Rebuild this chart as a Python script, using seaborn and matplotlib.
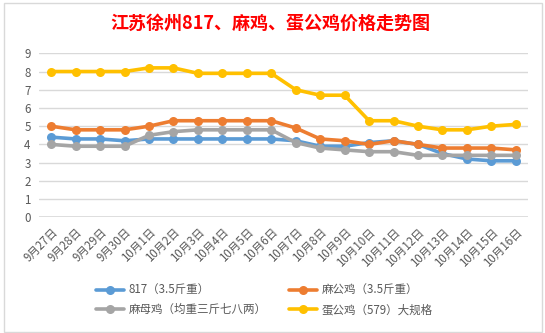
import matplotlib
matplotlib.use("Agg")
import matplotlib.pyplot as plt
from matplotlib.patches import Rectangle
import seaborn as sns
import pandas as pd

dates = ["9月27日", "9月28日", "9月29日", "9月30日", "10月1日", "10月2日", "10月3日",
         "10月4日", "10月5日", "10月6日", "10月7日", "10月8日", "10月9日", "10月10日",
         "10月11日", "10月12日", "10月13日", "10月14日", "10月15日", "10月16日"]
s817 = [4.4, 4.3, 4.3, 4.2, 4.3, 4.3, 4.3, 4.3, 4.3, 4.3, 4.2, 3.9, 3.9, 4.1,
        4.2, 4.0, 3.5, 3.2, 3.1, 3.1]
ma_gong = [5.0, 4.8, 4.8, 4.8, 5.0, 5.3, 5.3, 5.3, 5.3, 5.3, 4.9, 4.3, 4.2, 4.0,
           4.2, 4.0, 3.8, 3.8, 3.8, 3.7]
ma_mu = [4.0, 3.9, 3.9, 3.9, 4.5, 4.7, 4.8, 4.8, 4.8, 4.8, 4.1, 3.8, 3.7, 3.6,
         3.6, 3.4, 3.4, 3.4, 3.4, 3.4]
dan_gong = [8.0, 8.0, 8.0, 8.0, 8.2, 8.2, 7.9, 7.9, 7.9, 7.9, 7.0, 6.7, 6.7, 5.3,
            5.3, 5.0, 4.8, 4.8, 5.0, 5.1]
series_names = ["817（3.5斤重）", "麻公鸡（3.5斤重）", "麻母鸡（均重三斤七八两）", "蛋公鸡（579）大规格"]
colors = ["#5B9BD5", "#ED7D31", "#A5A5A5", "#FFC000"]
title = "江苏徐州817、麻鸡、蛋公鸡价格走势图"

sns.set_theme(style="white")
plt.rcParams['font.family'] = ['Noto Sans CJK SC', 'DejaVu Sans']

rows = []
for name, vals in zip(series_names, [s817, ma_gong, ma_mu, dan_gong]):
    for d, v in zip(dates, vals):
        rows.append({"date": d, "price": v, "series": name})
df = pd.DataFrame(rows)
df["x"] = df["date"].map({d: i for i, d in enumerate(dates)})

fig = plt.figure(figsize=(5.45, 3.33), dpi=100)
ax = fig.add_axes([39/545, 1-217.3/333, (528-39)/545, (217.3-53.3)/333])

sns.lineplot(data=df, x="x", y="price", hue="series", hue_order=series_names,
             palette=colors, marker="o", markersize=6.5, markeredgewidth=0,
             linewidth=2.6, ax=ax, legend=True, sort=False, zorder=3)

ax.set_xlim(-0.5, len(dates) - 0.5)
ax.set_ylim(0, 9)
ax.set_yticks(range(0, 10))
ax.yaxis.grid(True, color="#D9D9D9", linewidth=1)
ax.set_axisbelow(True)
for sp in ax.spines.values():
    sp.set_visible(False)
ax.axhline(0, color="#D9D9D9", linewidth=1.2, zorder=1)
ax.set_xticks(range(len(dates)))
ax.set_xticklabels(dates, rotation=45, ha="right", rotation_mode="anchor",
                   fontsize=8.3, color="#595959")
ax.set_xticks([i - 0.5 for i in range(len(dates) + 1)], minor=True)
ax.tick_params(axis="x", which="major", length=0, pad=6)
ax.tick_params(axis="x", which="minor", length=5, color="#D9D9D9", width=1, direction="out")
ax.tick_params(axis="y", length=0, labelsize=8.3, labelcolor="#595959", pad=6)
ax.set_xlabel("")
ax.set_ylabel("")

handles, labels = ax.get_legend_handles_labels()
ax.legend_.remove()
order = [0, 2, 1, 3]  # column-major fill so rows read 817/麻公鸡, 麻母鸡/蛋公鸡
fig.legend([handles[i] for i in order], [labels[i] for i in order], ncol=2,
           loc="upper left", bbox_to_anchor=(96/545, 1-284/333),
           frameon=False, fontsize=8.3, handlelength=2.4, columnspacing=2.0,
           labelspacing=0.55, handletextpad=0.4, labelcolor="#595959",
           borderaxespad=0, borderpad=0)

fig.text(0.496, 1-23.5/333, title, ha="center", va="center", color="#FF0000",
         fontsize=13, fontweight="bold")

fig.patches.append(Rectangle((3.5/545, 1.5/333), (542-3.5)/545, (330-1.5)/333,
                             transform=fig.transFigure, fill=False,
                             edgecolor="#D9D9D9", linewidth=1))

fig.savefig("out.png", dpi=100)
